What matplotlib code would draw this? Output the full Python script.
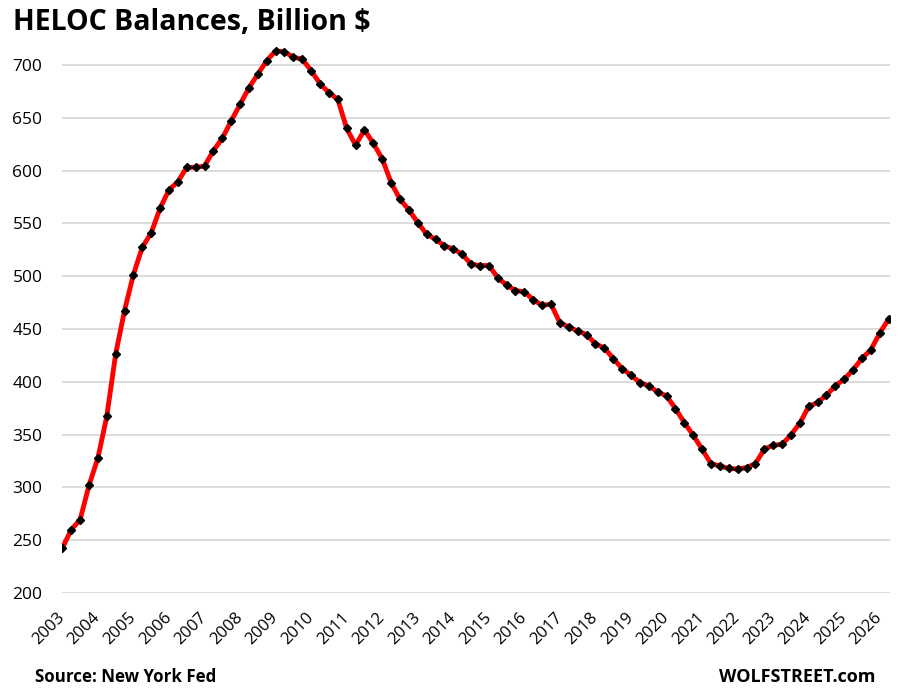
import numpy as np
import matplotlib
matplotlib.use('Agg')
from matplotlib import pyplot as plt

# HELOC balances, quarterly, billion $
balances = [
    242.6, 259.9, 269.4, 301.9, 327.8, 367.2, 426.2, 467.5,
    501.6, 527.4, 541.0, 564.4, 581.7, 589.4, 603.1, 603.1,
    604.3, 618.9, 630.5, 647.0, 662.7, 678.5, 691.2, 704.1,
    713.3, 712.6, 707.3, 705.7, 694.6, 682.3, 673.8, 667.5,
    640.0, 624.1, 638.5, 625.9, 611.2, 588.6, 572.9, 562.8,
    550.8, 539.7, 535.0, 528.7, 525.9, 520.8, 511.4, 510.1,
    510.1, 498.7, 491.5, 486.4, 485.3, 477.6, 472.4, 473.5,
    455.8, 452.0, 448.0, 444.7, 435.9, 432.1, 422.0, 412.5,
    406.2, 399.3, 396.1, 390.4, 386.6, 374.6, 361.4, 349.4,
    336.1, 322.5, 320.3, 318.0, 317.4, 318.7, 322.5, 336.1,
    339.9, 340.8, 349.7, 360.8, 376.6, 380.4, 387.3, 396.2,
    402.5, 411.4, 422.2, 430.4, 446.2, 459.5,
]
year_labels = [str(y) for y in range(2003, 2027)]
y_ticks = [200, 250, 300, 350, 400, 450, 500, 550, 600, 650, 700]

FONT = ['Open Sans', 'DejaVu Sans']

def main():
  fig = plt.figure(figsize=(9.01, 6.92), dpi=100)
  ax = fig.add_axes([0.0687, 0.1431, 0.9191, 0.8011])

  x = np.arange(len(balances))
  ax.plot(x, balances, color='#ff0000', linewidth=3.5, zorder=3)
  ax.plot(x, balances, linestyle='none', marker='D', markersize=4.3,
          color='black', zorder=4)

  ax.set_xlim(-0.05, 93.15)
  ax.set_ylim(200, 725)

  ax.set_yticks(y_ticks)
  ax.set_yticklabels([str(v) for v in y_ticks], family=FONT, fontsize=12.5)
  ax.grid(axis='y', color='#d9d9d9', linewidth=1.3)
  ax.set_axisbelow(True)

  ax.set_xticks(np.arange(0, len(year_labels) * 4, 4))
  ax.set_xticklabels(year_labels, family=FONT, fontsize=12,
                     rotation=45, ha='right', va='center',
                     rotation_mode='anchor')

  ax.tick_params(axis='y', length=0, pad=14)
  ax.tick_params(axis='x', length=0, pad=16)
  for s in ax.spines.values():
    s.set_visible(False)

  fig.text(0.0144, 0.968, 'HELOC Balances, Billion $', family=FONT,
           fontsize=20.5, fontweight='bold', ha='left', va='center')
  fig.text(0.039, 0.021, 'Source: New York Fed', family=FONT,
           fontsize=12.2, fontweight='bold', ha='left', va='center')
  fig.text(0.972, 0.021, 'WOLFSTREET.com', family=FONT,
           fontsize=13, fontweight='bold', ha='right', va='center')

  plt.savefig('out.png', dpi=100)

if __name__ == '__main__':
  main()
